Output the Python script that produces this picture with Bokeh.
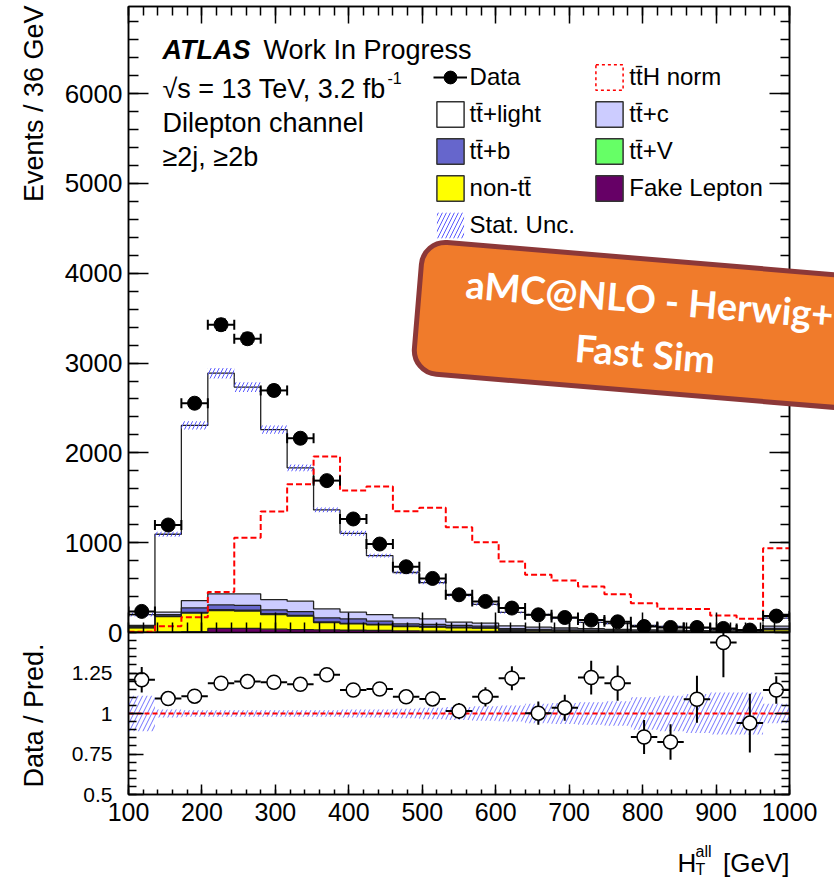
import numpy as np
from bokeh.plotting import figure
from bokeh.models import (Range1d, LinearAxis, SingleIntervalTicker, FixedTicker, Label,
                          Legend, LegendItem, Whisker, TeeHead, ColumnDataSource,
                          CustomJSTickFormatter)
from bokeh.layouts import column, row
from bokeh.embed import file_html
from bokeh.resources import INLINE

# ---------------- data ----------------
bin_edges = [100 + 36 * i for i in range(26)]          # 36 GeV bins, 100..1000
data_counts = [235, 1197, 2553, 3427, 3271, 2695, 2163, 1691, 1264, 985, 732, 602, 420,
               346, 272, 197, 167, 138, 119, 67, 56, 56, 45, 27, 183]
tt_light = [121, 868, 1950, 2456, 2302, 1892, 1484, 1102, 878, 656, 505, 404, 299,
            210, 150, 137, 111, 71, 65, 48, 42, 30, 14, 14, 88]
tt_c = [15, 26, 81, 123, 130, 115, 116, 100, 74, 74, 67, 63, 37, 33, 30, 25, 20, 17, 14,
        12, 10, 8, 6, 5, 25]
tt_b = [10, 17, 52, 53, 53, 43, 43, 46, 50, 36, 24, 25, 22, 20, 15, 12, 10, 8, 7, 6, 5,
        4, 3, 3, 12]
tt_v = [2, 5, 8, 10, 10, 9, 8, 7, 6, 5, 5, 4, 4, 3, 3, 3, 2, 2, 2, 2, 2, 1, 1, 1, 5]
non_tt = [47, 170, 205, 200, 193, 163, 149, 80, 71, 63, 49, 45, 39, 37, 16, 12, 11, 9, 7,
          6, 5, 5, 4, 4, 22]
fake_lep = [5, 8, 10, 45, 45, 37, 33, 30, 25, 22, 18, 15, 13, 11, 9, 8, 7, 6, 5, 4, 4, 3,
            3, 2, 8]
tth_norm = [8, 70, 171, 452, 1055, 1347, 1650, 1960, 1581, 1626, 1351, 1388, 1173, 1006,
            791, 642, 579, 512, 427, 327, 264, 262, 189, 152, 939]
stat_rel = [0.11, 0.025, 0.02, 0.02, 0.02, 0.02, 0.02, 0.02, 0.025, 0.025, 0.03, 0.035,
            0.04, 0.045, 0.05, 0.06, 0.065, 0.07, 0.075, 0.10, 0.11, 0.12, 0.13, 0.13, 0.06]
ratio_vals = [1.208, 1.092, 1.107, 1.187, 1.197, 1.193, 1.180, 1.239, 1.145, 1.151, 1.103,
              1.090, 1.015, 1.103, 1.218, 1.002, 1.036, 1.222, 1.187, 0.855, 0.824, 1.088,
              1.438, 0.941, 1.145]
ratio_reference = 1.0
y_main_ticks_step = 1000
x_ticks_step = 100
ratio_ticks = [0.5, 0.75, 1.0, 1.25, 1.5]

# ---------------- derived ----------------
edges = np.array(bin_edges, dtype=float)
centers = 0.5 * (edges[:-1] + edges[1:])
halfw = 0.5 * np.diff(edges)
dat = np.array(data_counts, dtype=float)
rat = np.array(ratio_vals)
rat_err = rat / np.sqrt(dat)
srel = np.array(stat_rel)

FONT = "Liberation Sans"
BLANK = CustomJSTickFormatter(code="return '';")
HATCH = "#5a5aff"


def ext(a):
    a = np.asarray(a, dtype=float)
    return np.append(a, a[-1])


def style_axis(ax, maj, mnr, font_size=None, standoff=0):
    ax.axis_line_color = "black"
    ax.axis_line_width = 1.5
    ax.major_tick_line_color = "black"
    ax.major_tick_line_width = 1.5
    ax.minor_tick_line_color = "black"
    ax.minor_tick_line_width = 1.5
    ax.major_tick_in = maj
    ax.major_tick_out = 0
    ax.minor_tick_in = mnr
    ax.minor_tick_out = 0
    if font_size:
        ax.major_label_text_font = FONT
        ax.major_label_text_font_size = font_size
        ax.major_label_text_color = "black"
        ax.major_label_standoff = standoff
    else:
        ax.formatter = BLANK
        ax.major_label_text_font_size = "1px"
        ax.major_label_standoff = 0


# ---------------- main panel ----------------
p = figure(width=834, height=646, x_range=Range1d(100, 1000), y_range=Range1d(0, 6970),
           output_backend="svg", toolbar_location=None,
           min_border_left=128, min_border_right=45, min_border_top=6, min_border_bottom=14)
p.grid.visible = False
p.outline_line_color = "black"
p.outline_line_width = 1.5

p.xaxis.ticker = SingleIntervalTicker(interval=x_ticks_step, num_minor_ticks=5)
style_axis(p.xaxis[0], 20, 10)
p.yaxis.ticker = SingleIntervalTicker(interval=y_main_ticks_step, num_minor_ticks=5)
style_axis(p.yaxis[0], 20, 10, "26px", 6)
ax_r = LinearAxis(ticker=SingleIntervalTicker(interval=y_main_ticks_step, num_minor_ticks=5))
style_axis(ax_r, 20, 9)
p.add_layout(ax_r, "right")
ax_t = LinearAxis(ticker=SingleIntervalTicker(interval=x_ticks_step, num_minor_ticks=5))
style_axis(ax_t, 17, 9)
p.add_layout(ax_t, "above")

components = [(fake_lep, "#660066"), (non_tt, "#ffff00"), (tt_v, "#66ff66"),
              (tt_b, "#6666cc"), (tt_c, "#ccccff"), (tt_light, "#ffffff")]
cum = np.zeros(len(centers))
for vals, col in components:
    lo = cum.copy()
    hi = cum + np.array(vals, dtype=float)
    p.varea_step(x=edges, y1=ext(lo), y2=ext(hi), step_mode="after", fill_color=col)
    cum = hi
cum = np.zeros(len(centers))
for vals, col in components:
    cum = cum + np.array(vals, dtype=float)
    p.step(x=edges, y=ext(cum), mode="after", line_color="#222222", line_width=1.3)
total = cum

p.varea_step(x=edges, y1=ext(total * (1 - srel)), y2=ext(total * (1 + srel)),
             step_mode="after", fill_alpha=0, hatch_pattern="/", hatch_color=HATCH,
             hatch_scale=8, hatch_weight=1)

p.step(x=edges, y=ext(tth_norm), mode="after", line_color="#ff0000", line_width=2,
       line_dash="6 3")

dsrc = ColumnDataSource(dict(x=centers, y=dat, xl=centers - halfw, xu=centers + halfw,
                             yl=dat - np.sqrt(dat), yu=dat + np.sqrt(dat)))
for base, lower, upper, dim in (("y", "xl", "xu", "width"), ("x", "yl", "yu", "height")):
    p.add_layout(Whisker(source=dsrc, base=base, lower=lower, upper=upper, dimension=dim,
                         line_width=2, line_color="black", level="annotation",
                         lower_head=TeeHead(size=10, line_width=2, line_color="black"),
                         upper_head=TeeHead(size=10, line_width=2, line_color="black")))
data_r = p.scatter(x="x", y="y", source=dsrc, size=14, fill_color="black", line_color="black")

# legend proxies (hidden renderers, one row each)
seg_proxy = p.segment(x0=[0], y0=[0], x1=[0], y1=[0], line_color="black", line_width=2,
                      visible=False)


def box_proxy(fill, line="#333333", dash="solid", falpha=1.0, lalpha=1.0, hatch=None):
    kw = dict(left=[0], right=[0], top=[0], bottom=[0], fill_color=fill, fill_alpha=falpha,
              line_color=line, line_width=1.5, line_alpha=lalpha, line_dash=dash,
              visible=False)
    if hatch:
        kw.update(hatch_pattern="/", hatch_color=hatch, hatch_scale=8, hatch_weight=1)
    return p.quad(**kw)


tb = "tt\u0304"
items1 = [LegendItem(label="Data", renderers=[seg_proxy, data_r]),
          LegendItem(label=tb + "+light", renderers=[box_proxy("#ffffff")]),
          LegendItem(label=tb + "+b", renderers=[box_proxy("#6666cc")]),
          LegendItem(label="non-" + tb, renderers=[box_proxy("#ffff00")]),
          LegendItem(label="Stat. Unc.", renderers=[box_proxy("#ffffff", falpha=0, lalpha=0,
                                                              hatch=HATCH)])]
items2 = [LegendItem(label=tb + "H norm", renderers=[box_proxy("#ffffff", line="#ff0000",
                                                               dash="3 3", falpha=0)]),
          LegendItem(label=tb + "+c", renderers=[box_proxy("#ccccff")]),
          LegendItem(label=tb + "+V", renderers=[box_proxy("#66ff66")]),
          LegendItem(label="Fake Lepton", renderers=[box_proxy("#660066")])]
for items, loc in ((items1, (304.6, 391.3)), (items2, (464.3, 428.3))):
    leg = Legend(items=items, location=loc, orientation="vertical", glyph_width=34,
                 glyph_height=32, spacing=5, padding=0, margin=0, label_standoff=3,
                 label_text_font=FONT, label_text_font_size="24px", label_text_color="black",
                 border_line_alpha=0, background_fill_alpha=0, inactive_fill_alpha=0)
    p.add_layout(leg)

# ---------------- ratio panel ----------------
r = figure(width=834, height=246, x_range=p.x_range, y_range=Range1d(0.5, 1.5),
           output_backend="svg", toolbar_location=None,
           min_border_left=128, min_border_right=45, min_border_top=0, min_border_bottom=84,
           margin=(-14, 0, 0, 0))
r.border_fill_alpha = 0
r.grid.visible = False
r.outline_line_color = "black"
r.outline_line_width = 1.5

minor_r = [round(0.5 + 0.05 * i, 2) for i in range(21)]
r.yaxis.ticker = FixedTicker(ticks=ratio_ticks, minor_ticks=minor_r)
r.yaxis.formatter = CustomJSTickFormatter(code="return tick > 1.49 ? '' : String(tick);")
style_axis(r.yaxis[0], 15, 8, "21px", 16)
r.xaxis.ticker = SingleIntervalTicker(interval=x_ticks_step, num_minor_ticks=5)
style_axis(r.xaxis[0], 10, 5, "25px", 8)
rax = LinearAxis(ticker=FixedTicker(ticks=ratio_ticks, minor_ticks=minor_r))
style_axis(rax, 15, 8)
r.add_layout(rax, "right")

r.varea_step(x=edges, y1=ext(1 - srel), y2=ext(1 + srel), step_mode="after",
             fill_alpha=0, hatch_pattern="/", hatch_color=HATCH, hatch_alpha=0.85,
             hatch_scale=9, hatch_weight=1)
r.line(x=[edges[0], edges[-1]], y=[ratio_reference, ratio_reference], line_color="#ff0000",
       line_width=2, line_dash="5 3")
rsrc = ColumnDataSource(dict(x=centers, y=rat, xl=centers - halfw, xu=centers + halfw,
                             yl=rat - rat_err, yu=rat + rat_err))
r.segment(x0="xl", x1="xu", y0="y", y1="y", source=rsrc, line_color="black", line_width=2)
r.segment(x0="x", x1="x", y0="yl", y1="yu", source=rsrc, line_color="black", line_width=2)
r.scatter(x="x", y="y", source=rsrc, size=14, fill_color="white", line_color="black",
          line_width=1.5)

# ---------------- text overlay (pixel coordinates of the page) ----------------
o = figure(width=834, height=878, x_range=Range1d(0, 834), y_range=Range1d(878, 0),
           output_backend="svg", toolbar_location=None, x_axis_location=None,
           y_axis_location=None, min_border=0, min_border_left=0, min_border_right=0,
           min_border_top=0, min_border_bottom=0)
o.grid.visible = False
o.outline_line_color = None
o.background_fill_alpha = 0
o.border_fill_alpha = 0


def lab(x, y, text, size="27px", style="normal", align="left", baseline="alphabetic",
        angle=0.0):
    o.add_layout(Label(x=x, y=y, text=text, text_font=FONT, text_font_size=size,
                       text_font_style=style, text_align=align, text_baseline=baseline,
                       angle=angle, text_color="black"))


lab(162, 49, "ATLAS", style="bold italic")
lab(263, 49, "Work In Progress")
lab(162, 88, "\u221as = 13 TeV, 3.2 fb")
lab(387, 77, "-1", size="16px")
lab(162, 122, "Dilepton channel")
lab(162, 156, "\u22652j, \u22652b")
lab(33, 5, "Events / 36 GeV", size="27px", align="right", angle=np.pi / 2)
lab(33, 643, "Data / Pred.", size="27px", align="right", angle=np.pi / 2)
lab(789, 862, "[GeV]", size="26px", align="right")
lab(677, 862, "H", size="26px")
lab(695, 869, "T", size="16px")
lab(695, 851, "all", size="16px")

badge_text = "aMC@NLO - Herwig+\nFast Sim"
common = dict(text=badge_text, text_align="center", text_baseline="middle", angle=-0.083,
              text_font="Lato", text_font_style="bold", text_font_size="38px",
              text_line_height=1.18, border_radius=24, padding=dict(x=46, y=16))
o.add_layout(Label(x=648, y=335, text_alpha=0, background_fill_color="black",
                   background_fill_alpha=0.3, **common))
o.add_layout(Label(x=647, y=325, text_color="white", background_fill_color="#F07B2B",
                   border_line_color="#8C3838", border_line_width=5, **common))

layout = column(p, r, row(o, margin=(-878, 0, 0, 0)))
open("out.html", "w").write(file_html(layout, INLINE))
